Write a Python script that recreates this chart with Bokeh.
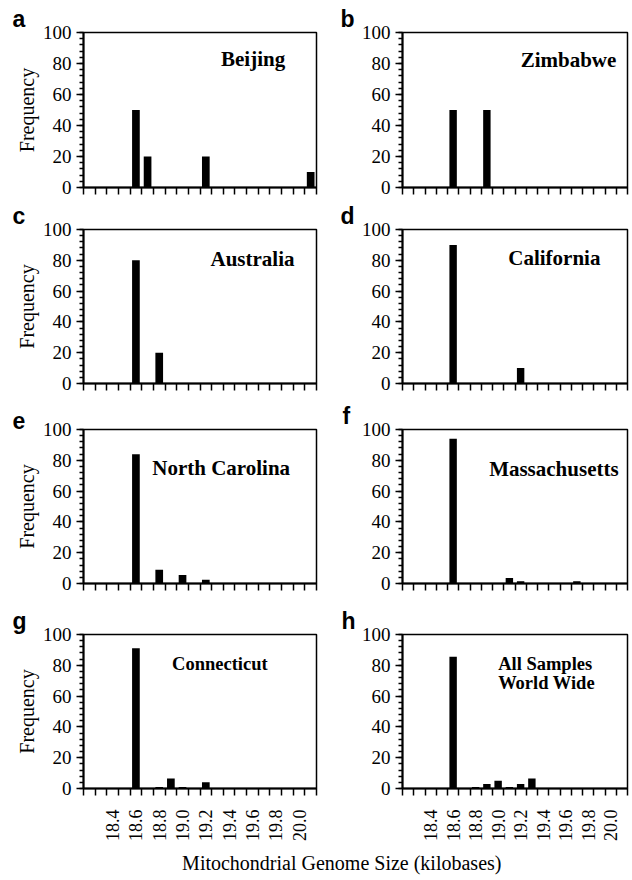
import math
from bokeh.plotting import figure
from bokeh.models import Range1d, FixedTicker, SingleIntervalTicker, PrintfTickFormatter
from bokeh.layouts import column, row
from bokeh.embed import file_html
from bokeh.resources import INLINE
from bokeh.core.properties import value

# ---------------- data (genome size in kb, frequency in %) ----------------
beijing_size = [18.6, 18.7, 19.2, 20.1]
beijing_freq = [50, 20, 20, 10]

zimbabwe_size = [18.6, 18.9]
zimbabwe_freq = [50, 50]

australia_size = [18.6, 18.8]
australia_freq = [80, 20]

california_size = [18.6, 19.2]
california_freq = [90, 10]

ncarolina_size = [18.6, 18.8, 19.0, 19.2]
ncarolina_freq = [84, 9, 5.5, 2.5]

mass_size = [18.6, 19.1, 19.2, 19.7]
mass_freq = [94, 3.5, 1.5, 1.5]

conn_size = [18.6, 18.8, 18.9, 19.0, 19.2]
conn_freq = [91, 1, 6.5, 1, 4]

world_size = [18.6, 18.8, 18.9, 19.0, 19.1, 19.2, 19.3]
world_freq = [85.5, 1, 3, 5, 1, 3, 6.5]

x_tick_values = [18.4, 18.6, 18.8, 19.0, 19.2, 19.4, 19.6, 19.8, 20.0]
y_label = "Frequency"
x_title = "Mitochondrial Genome Size (kilobases)"

# ---------------- styling / layout ----------------
SERIF = "Liberation Serif"
SANS = "Liberation Sans"
X_START, X_END, BIN = 18.15, 20.15, 0.1
edges = [round(X_START + BIN * k, 2) for k in range(21)]

col_width = [330, 302]
col_left = [83, 72]
col_right = [14, 5]
row_height = [200, 200, 200, 244]
row_top = [32, 28, 28, 34]
row_frame = [155, 155, 155, 156]

panels = [
    dict(letter="a", col=0, row=0, x=beijing_size, y=beijing_freq,
         titles=[("Beijing", 19.33, 82.8)], tsize="21px", loff=-71),
    dict(letter="b", col=1, row=0, x=zimbabwe_size, y=zimbabwe_freq,
         titles=[("Zimbabwe", 19.20, 82.2)], tsize="21px", loff=-62),
    dict(letter="c", col=0, row=1, x=australia_size, y=australia_freq,
         titles=[("Australia", 19.24, 80.6)], tsize="21px", loff=-71),
    dict(letter="d", col=1, row=1, x=california_size, y=california_freq,
         titles=[("California", 19.09, 81.7)], tsize="21px", loff=-62),
    dict(letter="e", col=0, row=2, x=ncarolina_size, y=ncarolina_freq,
         titles=[("North Carolina", 18.74, 75.2)], tsize="21px", loff=-71),
    dict(letter="f", col=1, row=2, x=mass_size, y=mass_freq,
         titles=[("Massachusetts", 18.92, 74.4)], tsize="21px", loff=-60),
    dict(letter="g", col=0, row=3, x=conn_size, y=conn_freq,
         titles=[("Connecticut", 18.91, 80.9)], tsize="18.5px", loff=-71),
    dict(letter="h", col=1, row=3, x=world_size, y=world_freq,
         titles=[("All Samples", 19.00, 80.9), ("World Wide", 19.00, 68.4)],
         tsize="18.5px", loff=-61),
]


def make_panel(spec):
    c, r = spec["col"], spec["row"]
    p = figure(width=col_width[c], height=row_height[r],
               x_range=Range1d(X_START, X_END), y_range=Range1d(0, 100),
               output_backend="svg", toolbar_location=None,
               min_border_left=col_left[c], min_border_right=col_right[c],
               min_border_top=row_top[r],
               min_border_bottom=row_height[r] - row_top[r] - row_frame[r])
    p.grid.visible = False
    p.outline_line_color = "black"
    p.outline_line_width = 1.5
    p.background_fill_color = "white"
    p.border_fill_color = "white"

    # panel letter as the figure title
    p.title.text = spec["letter"]
    p.title.align = "left"
    p.title.offset = spec["loff"]
    p.title.standoff = 1
    p.title.text_font = SANS
    p.title.text_font_style = "bold"
    p.title.text_font_size = "23px"
    p.title.text_color = "black"

    # bars
    p.vbar(x=spec["x"], top=spec["y"], width=0.066, bottom=0,
           fill_color="black", line_color=None)

    # x axis: ticks at bin edges, labels at bin centres (bottom row only)
    xa = p.xaxis[0]
    bottom_row = (r == 3)
    xa.ticker = FixedTicker(ticks=x_tick_values if bottom_row else [], minor_ticks=edges)
    xa.formatter = PrintfTickFormatter(format="%.1f")
    xa.major_tick_out = 0
    xa.major_tick_in = 0
    xa.minor_tick_out = 7
    xa.minor_tick_in = 0
    xa.minor_tick_line_width = 1.5
    xa.minor_tick_line_color = "black"
    xa.axis_line_width = 2
    xa.axis_line_color = "black"
    xa.major_label_orientation = math.pi / 2
    xa.major_label_standoff = 14
    xa.major_label_text_font = SERIF
    xa.major_label_text_font_size = "18px"
    xa.major_label_text_color = "black"

    # y axis
    ya = p.yaxis[0]
    ya.ticker = SingleIntervalTicker(interval=20, num_minor_ticks=5)
    ya.major_tick_out = 7
    ya.major_tick_in = 0
    ya.minor_tick_out = 4
    ya.minor_tick_in = 0
    ya.major_tick_line_width = 1.5
    ya.minor_tick_line_width = 1.5
    ya.major_tick_line_color = "black"
    ya.minor_tick_line_color = "black"
    ya.axis_line_width = 2
    ya.axis_line_color = "black"
    ya.major_label_standoff = 5
    ya.major_label_text_font = SERIF
    ya.major_label_text_font_size = "19px"
    ya.major_label_text_color = "black"
    if c == 0:
        ya.axis_label = y_label
        ya.axis_label_text_font = SERIF
        ya.axis_label_text_font_size = "20px"
        ya.axis_label_text_font_style = "normal"
        ya.axis_label_text_color = "black"
        ya.axis_label_standoff = 2

    # location title(s) inside the frame
    for txt, tx, ty in spec["titles"]:
        p.text(x=[tx], y=[ty], text=[txt], text_font=value(SERIF),
               text_font_style="bold", text_font_size=spec["tsize"],
               text_color="black", text_align="left", text_baseline="alphabetic")
    return p


figs = [make_panel(s) for s in panels]

# common x-axis title
tf = figure(width=632, height=36, x_range=Range1d(0, 1), y_range=Range1d(0, 1),
            output_backend="svg", toolbar_location=None,
            x_axis_type=None, y_axis_type=None, min_border=0)
tf.grid.visible = False
tf.outline_line_color = None
tf.text(x=[0.54], y=[0.5], text=[x_title], text_font=value(SERIF),
        text_font_size="20px", text_color="black", text_align="center",
        text_baseline="middle")

layout = column(
    row(figs[0], figs[1], spacing=0),
    row(figs[2], figs[3], spacing=0),
    row(figs[4], figs[5], spacing=0),
    row(figs[6], figs[7], spacing=0),
    tf,
    spacing=0,
)

open("out.html", "w").write(file_html(layout, INLINE))
